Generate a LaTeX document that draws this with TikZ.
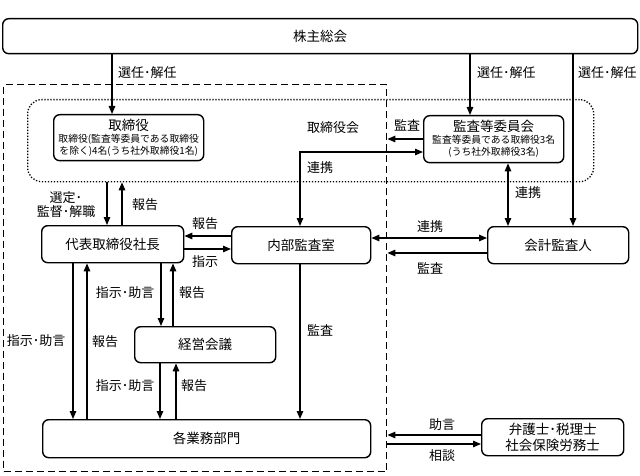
\documentclass[tikz,border=0pt]{standalone}
\usepackage{fontspec}
\setmainfont{Noto Sans CJK JP}
\usetikzlibrary{arrows.meta,calc}
\newcommand{\smf}{\fontsize{9.8}{11}\selectfont}
\begin{document}
\begin{tikzpicture}[x=1pt,y=-1pt,
  box/.style={draw, line width=1.4pt, rounded corners=6pt, anchor=north west, inner sep=0pt, align=center, font=\fontsize{13.5}{15}\selectfont},
  lbl/.style={font=\fontsize{13}{15}\selectfont, inner sep=0pt},
  tip/.tip={Triangle[length=8pt,width=6.5pt]},
  arr/.style={line width=1.3pt, -tip},
  darr/.style={line width=1.3pt, tip-tip}
]
\useasboundingbox (0,0) rectangle (640,476);
\fill[white] (0,0) rectangle (640,476);
% group frames
\node[draw, line width=1.4pt, dash pattern=on 7pt off 4pt, anchor=north west, inner sep=0pt, minimum width=383pt, minimum height=387pt] (grp) at (3,84) {};
\node[draw, line width=1.3pt, dash pattern=on 1.3pt off 1.7pt, rounded corners=14pt, anchor=north west, inner sep=0pt, minimum width=566pt, minimum height=82pt] (bm) at (27,99) {};
% boxes
\node[box, minimum width=635pt, minimum height=35pt] (gm) at (2,18) {株主総会};
\node[box, minimum width=150pt, minimum height=46pt] (bod) at (53,114) {取締役\\[-3pt]{\smf 取締役(監査等委員である取締役}\\[-3pt]{\smf を除く)4名(うち社外取締役1名)}};
\node[box, minimum width=140pt, minimum height=47pt] (ac) at (423,115) {監査等委員会\\[-3pt]{\smf 監査等委員である取締役3名}\\[-3pt]{\smf (うち社外取締役3名)}};
\node[box, minimum width=142pt, minimum height=37pt] (ceo) at (41,225) {代表取締役社長};
\node[box, minimum width=139pt, minimum height=37pt] (ia) at (231,226) {内部監査室};
\node[box, minimum width=141pt, minimum height=37pt] (ea) at (487,226) {会計監査人};
\node[box, minimum width=141pt, minimum height=36pt] (mc) at (134,326) {経営会議};
\node[box, minimum width=328pt, minimum height=38pt] (dept) at (42,419) {各業務部門};
\node[box, minimum width=142pt, minimum height=37pt] (law) at (481,418) {弁護士･税理士\\[1pt]社会保険労務士};
% labels
\node[lbl] (tbk) at (333,128) {取締役会};
% arrows from shareholders
\draw[arr] (112,0 |- gm.south) -- (112,0 |- bod.north);
\node[lbl, anchor=west] (s1) at (118,73) {選任･解任};
\draw[arr] (470,0 |- gm.south) -- (470,0 |- ac.north);
\node[lbl, anchor=west] (s2) at (477,73) {選任･解任};
\draw[arr] (573,0 |- gm.south) -- (573,0 |- ea.north);
\node[lbl, anchor=west] (s3) at (578,73) {選任･解任};
% audit committee
\coordinate (c1) at (grp.east |- 0,139);
\draw[arr] (ac.west |- c1) -- (c1);
\node[lbl] (k1) at (407,125) {監査};
\coordinate (c2) at (300,152);
\draw[darr] (c2 -| ac.west) -- (c2) -- (c2 |- ia.north);
\node[lbl] (r1) at (320,168) {連携};
\draw[darr] (508,0 |- ac.south) -- (508,0 |- ea.north);
\node[lbl] (r2) at (528,193) {連携};
\draw[darr] (ia.east |- 0,238) -- (ea.west |- 0,238);
\node[lbl] (r3) at (430,227) {連携};
\coordinate (c3) at (grp.east |- 0,253);
\draw[arr] (ea.west |- c3) -- (c3);
\node[lbl] (k2) at (430,268) {監査};
% board <-> CEO
\draw[arr] (107,0 |- bm.south) -- (107,0 |- ceo.north);
\node[lbl, align=center] (sk) at (66,205) {選定･\\[-1pt]監督･解職};
\draw[arr] (122,0 |- ceo.north) -- (122,0 |- bm.south);
\node[lbl] (h1) at (145,205) {報告};
% CEO <-> internal audit
\draw[arr] (ia.west |- 0,236) -- (ceo.east |- 0,236);
\node[lbl] (h2) at (205,224) {報告};
\draw[arr] (ceo.east |- 0,249) -- (ia.west |- 0,249);
\node[lbl] (sj) at (205,262) {指示};
% CEO <-> departments
\draw[arr] (73,0 |- ceo.south) -- (73,0 |- dept.north);
\node[lbl] (sj2) at (36,341) {指示･助言};
\draw[arr] (87,0 |- dept.north) -- (87,0 |- ceo.south);
\node[lbl] (h3) at (105,342) {報告};
% CEO <-> management meeting
\draw[arr] (161,0 |- ceo.south) -- (161,0 |- mc.north);
\node[lbl] (sj3) at (125,293) {指示･助言};
\draw[arr] (173,0 |- mc.north) -- (173,0 |- ceo.south);
\node[lbl] (h4) at (192,293) {報告};
% management meeting <-> departments
\draw[arr] (160,0 |- mc.south) -- (160,0 |- dept.north);
\node[lbl] (sj4) at (125,386) {指示･助言};
\draw[arr] (176,0 |- dept.north) -- (176,0 |- mc.south);
\node[lbl] (h5) at (194,386) {報告};
% internal audit -> departments
\draw[arr] (300,0 |- ia.south) -- (300,0 |- dept.north);
\node[lbl] (k3) at (320,330) {監査};
% lawyers
\coordinate (c4) at (grp.east |- 0,435);
\draw[arr] (law.west |- c4) -- (c4);
\node[lbl] (jg) at (442,425) {助言};
\coordinate (c5) at (grp.east |- 0,444);
\draw[arr] (c5) -- (law.west |- c5);
\node[lbl] (sd) at (442,456) {相談};
\end{tikzpicture}
\end{document}
